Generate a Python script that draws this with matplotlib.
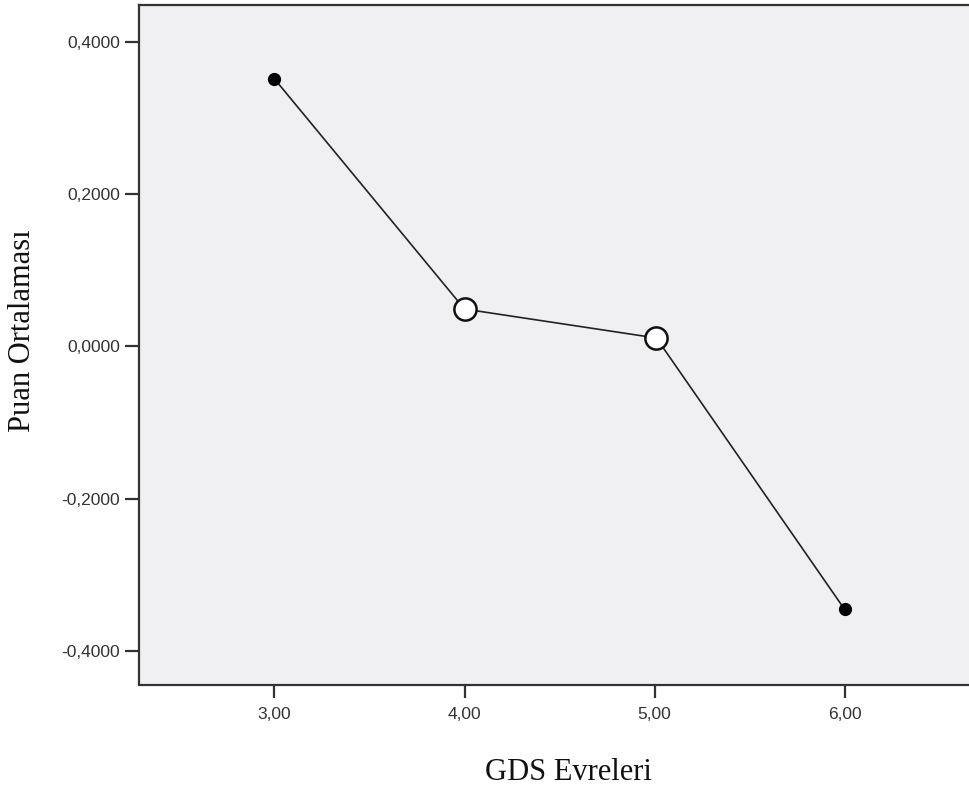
import matplotlib
matplotlib.use("Agg")
import matplotlib.pyplot as plt

# Data
stages = [3.0, 4.0, 5.01, 6.0]
means = [0.351, 0.049, 0.011, -0.345]
open_marker = [False, True, True, False]
x_ticks = [3, 4, 5, 6]
x_tick_labels = ["3,00", "4,00", "5,00", "6,00"]
y_ticks = [-0.4, -0.2, 0.0, 0.2, 0.4]
y_tick_labels = ["-0,4000", "-0,2000", "0,0000", "0,2000", "0,4000"]

fig = plt.figure(figsize=(9.69, 7.90), dpi=100)
ax = fig.add_axes([139/969, 1 - 684.5/790, 1 - 139/969, (684.5 - 5)/790])
ax.set_facecolor("#f0f0f2")

ax.plot(stages, means, color="#222222", lw=1.2, zorder=2)
for x, y, o in zip(stages, means, open_marker):
    if o:
        ax.plot(x, y, marker="o", ms=16, mfc="white", mec="#111111", mew=1.8, zorder=3)
    else:
        ax.plot(x, y, marker="o", ms=8.5, mfc="black", mec="black", zorder=3)

ax.set_xlim(2.287, 6.655)
ax.set_ylim(-0.4437, 0.448)
ax.set_xticks(x_ticks)
ax.set_xticklabels(x_tick_labels)
ax.set_yticks(y_ticks)
ax.set_yticklabels(y_tick_labels)

for s in ["left", "bottom", "top"]:
    ax.spines[s].set_linewidth(1.6)
    ax.spines[s].set_color("#333333")
ax.spines["right"].set_visible(False)

ax.tick_params(axis="both", length=10, width=1.6, color="#333333",
               labelsize=12.5, labelcolor="#333333", pad=3.5)
for lab in ax.get_xticklabels() + ax.get_yticklabels():
    lab.set_fontfamily("Liberation Sans")
ax.tick_params(axis="x", length=9, pad=7)

fig.text(568/969, 1 - 773/790, "GDS Evreleri", family="Liberation Serif",
         fontsize=22, ha="center", va="center", color="#111111")
fig.text(23/969, 1 - 330.5/790, "Puan Ortalaması", family="Liberation Serif",
         fontsize=22, ha="center", va="center", rotation=90, color="#111111")

fig.savefig("out.png", dpi=100)
